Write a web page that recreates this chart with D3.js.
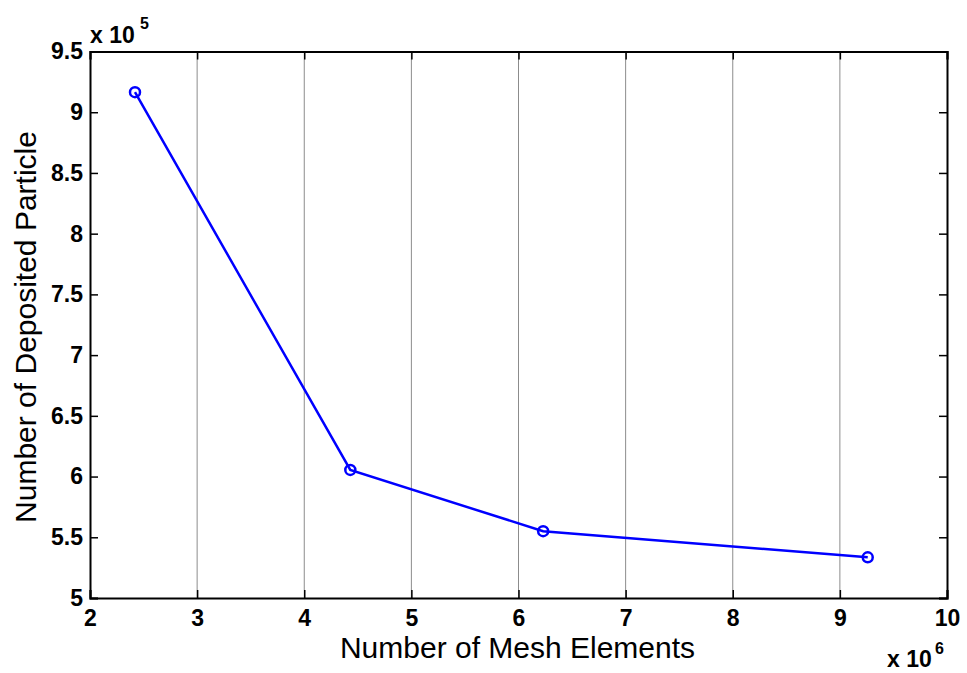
<!DOCTYPE html>
<html>
<head>
<meta charset="utf-8">
<script src="https://cdn.jsdelivr.net/npm/d3@7"></script>
<style>
  html, body { margin: 0; padding: 0; background: #fff; }
  svg { display: block; font-family: Arial, "Liberation Sans", sans-serif; }
</style>
</head>
<body>
<svg id="chart" width="967" height="673"></svg>
<script>
// Mesh element counts (x 10^6) and deposited particle counts (x 10^5)
const meshElements = [2.42, 4.43, 6.23, 9.26];
const depositedParticles = [9.165, 6.055, 5.55, 5.335];
const xTicks = [2, 3, 4, 5, 6, 7, 8, 9, 10];
const yTicks = [5, 5.5, 6, 6.5, 7, 7.5, 8, 8.5, 9, 9.5];

const svg = d3.select("#chart");
const plotLeft = 90, plotRight = 947, plotTop = 51.5, plotBottom = 598;

const x = d3.scaleLinear().domain([2, 10]).range([plotLeft, plotRight]);
const y = d3.scaleLinear().domain([5, 9.5]).range([plotBottom, plotTop]);

// vertical grid lines
svg.append("g")
  .selectAll("line")
  .data(xTicks.slice(1, -1))
  .join("line")
  .attr("x1", d => x(d)).attr("x2", d => x(d))
  .attr("y1", plotTop).attr("y2", plotBottom)
  .attr("stroke", "#8c8c8c")
  .attr("stroke-width", 1);

// axes with inward ticks on all four sides
const tickLen = 8;
const fmt = d => d3.format("~g")(d);

const bottomAxis = svg.append("g").attr("transform", `translate(0,${plotBottom})`)
  .call(d3.axisBottom(x).tickValues(xTicks).tickSize(-tickLen).tickPadding(12).tickFormat(fmt));
const topAxis = svg.append("g").attr("transform", `translate(0,${plotTop})`)
  .call(d3.axisTop(x).tickValues(xTicks).tickSize(-tickLen).tickFormat(""));
const leftAxis = svg.append("g").attr("transform", `translate(${plotLeft},0)`)
  .call(d3.axisLeft(y).tickValues(yTicks).tickSize(-tickLen).tickPadding(7).tickFormat(fmt));
const rightAxis = svg.append("g").attr("transform", `translate(${plotRight},0)`)
  .call(d3.axisRight(y).tickValues(yTicks).tickSize(-tickLen).tickFormat(""));

[bottomAxis, topAxis, leftAxis, rightAxis].forEach(g => {
  g.select(".domain").attr("stroke", "#000").attr("stroke-width", 2);
  g.selectAll(".tick line").attr("stroke", "#000").attr("stroke-width", 1.5);
  g.selectAll("text")
    .attr("fill", "#000")
    .attr("font-family", "Arial, 'Liberation Sans', sans-serif")
    .attr("font-size", 23)
    .attr("font-weight", "bold");
});

const points = meshElements.map((m, i) => [m, depositedParticles[i]]);

// data line
svg.append("path")
  .datum(points)
  .attr("fill", "none")
  .attr("stroke", "#0000ff")
  .attr("stroke-width", 2.5)
  .attr("d", d3.line().x(d => x(d[0])).y(d => y(d[1])));

// circle markers
svg.append("g")
  .selectAll("circle")
  .data(points)
  .join("circle")
  .attr("cx", d => x(d[0]))
  .attr("cy", d => y(d[1]))
  .attr("r", 5)
  .attr("fill", "none")
  .attr("stroke", "#0000ff")
  .attr("stroke-width", 2.5);

// axis titles
svg.append("text")
  .attr("x", (plotLeft + plotRight) / 2 - 1)
  .attr("y", 658)
  .attr("text-anchor", "middle")
  .attr("font-size", 30)
  .text("Number of Mesh Elements");

svg.append("text")
  .attr("transform", "translate(36,327) rotate(-90)")
  .attr("text-anchor", "middle")
  .attr("font-size", 30)
  .text("Number of Deposited Particle");

// exponent multipliers
function exponentLabel(xPos, yBase, supX, supBase, power) {
  svg.append("text")
    .attr("x", xPos).attr("y", yBase)
    .attr("font-size", 23).attr("font-weight", "bold")
    .text("x 10");
  svg.append("text")
    .attr("x", supX).attr("y", supBase)
    .attr("font-size", 16).attr("font-weight", "bold")
    .text(power);
}
exponentLabel(90, 43, 140, 29, "5");
exponentLabel(887, 667, 935, 654, "6");
</script>
</body>
</html>
